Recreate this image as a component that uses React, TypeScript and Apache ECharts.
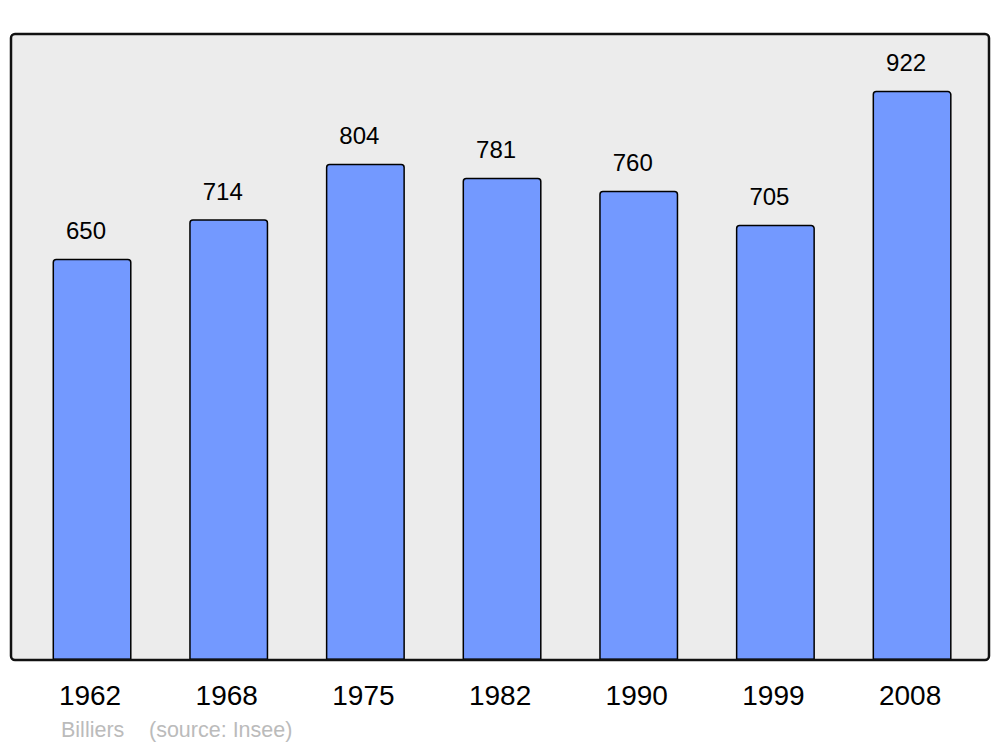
import React, { useEffect, useRef } from "react";
import * as echarts from "echarts";

const years = ["1962", "1968", "1975", "1982", "1990", "1999", "2008"];
const population = [650, 714, 804, 781, 760, 705, 922];
const footerName = "Billiers";
const footerSource = "(source: Insee)";

export default function App() {
  const ref = useRef<HTMLDivElement>(null);
  useEffect(() => {
    document.body.style.margin = "0";
    const chart = echarts.init(ref.current!, null, { renderer: "svg" });
    const font = "'Liberation Sans', Arial, sans-serif";
    chart.setOption({
      animation: false,
      backgroundColor: "#ffffff",
      grid: { left: 23.7, right: 19.6, top: 34, bottom: 87 },
      xAxis: {
        type: "category",
        data: years,
        axisLine: { show: false },
        axisTick: { show: false },
        axisLabel: {
          color: "#000",
          fontSize: 28,
          fontFamily: font,
          margin: 21,
          padding: [0, 4, 0, 0],
        },
      },
      yAxis: {
        type: "value",
        min: 0,
        max: 1014,
        show: false,
        splitLine: { show: false },
      },
      graphic: [
        {
          type: "rect",
          z: -10,
          silent: true,
          shape: { x: 11, y: 34, width: 978, height: 626, r: 4 },
          style: { fill: "#ececec", stroke: "none" },
        },
        {
          type: "rect",
          z: 100,
          silent: true,
          shape: { x: 11, y: 34, width: 978, height: 626, r: 4 },
          style: { fill: "none", stroke: "#111", lineWidth: 2.5 },
        },
        {
          type: "text",
          x: 61,
          y: 730,
          style: {
            text: footerName,
            fill: "#bbbbbb",
            fontSize: 21.5,
            fontFamily: font,
            verticalAlign: "middle",
          },
        },
        {
          type: "text",
          x: 149,
          y: 730,
          style: {
            text: footerSource,
            fill: "#bbbbbb",
            fontSize: 21.5,
            fontFamily: font,
            verticalAlign: "middle",
          },
        },
      ],
      series: [
        {
          type: "bar",
          data: population,
          barWidth: 79,
          itemStyle: {
            color: "#7399ff",
            borderColor: "#000",
            borderWidth: 1.5,
            borderRadius: [3, 3, 0, 0],
          },
          label: {
            show: true,
            position: "top",
            distance: 16,
            offset: [-6, 0],
            color: "#000",
            fontSize: 24,
            fontFamily: font,
          },
        },
      ],
    });
    return () => chart.dispose();
  }, []);
  return <div ref={ref} style={{ width: 1000, height: 747 }} />;
}
